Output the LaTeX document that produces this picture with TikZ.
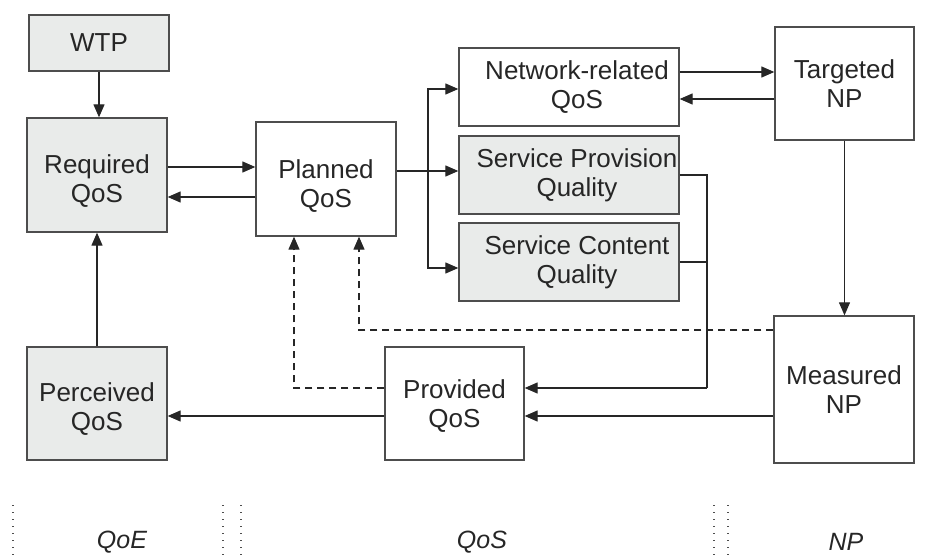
\documentclass[tikz,border=0pt]{standalone}
\usepackage{fontspec}
\setmainfont{Liberation Sans}
\usetikzlibrary{arrows.meta}
\definecolor{boxgray}{HTML}{E9EBEA}
\definecolor{edge}{HTML}{4D4D4D}
\definecolor{ink}{HTML}{262626}

\begin{document}
\begin{tikzpicture}[x=1pt,y=-1pt,
  box/.style={draw=edge, line width=1.3pt, inner sep=0pt},
  shaded/.style={box, fill=boxgray},
  plain/.style={box, fill=white},
  txt/.style={font=\fontsize{26}{29}\selectfont, text=ink, align=center, inner sep=0pt},
  wire/.style={draw=ink, line width=1.2pt},
  link/.style={wire, -{Triangle[length=13pt,width=11pt]}},
  dlink/.style={link, dash pattern=on 7pt off 5pt},
  sep/.style={draw=edge, line width=1.3pt, dash pattern=on 1.3pt off 5.7pt},
  zone/.style={font=\fontsize{25}{29}\selectfont\itshape, text=ink}
]
\useasboundingbox (0,0) rectangle (935,559);

% QoE column
\node[shaded, minimum width=140pt, minimum height=56pt,
      label={[txt]center:WTP}] (wtp) at (99,43) {};
\node[shaded, minimum width=140pt, minimum height=114pt,
      label={[txt,yshift=-6pt]center:{Required\\QoS}}] (req) at (97,175) {};
\node[shaded, minimum width=140pt, minimum height=113pt,
      label={[txt,yshift=-6pt]center:{Perceived\\QoS}}] (perc) at (97,403.5) {};

% QoS column
\node[plain, minimum width=140pt, minimum height=114pt,
      label={[txt,yshift=-7pt]center:{Planned\\QoS}}] (plan) at (326,179) {};
\node[plain, minimum width=139pt, minimum height=113pt,
      label={[txt,yshift=-3pt]center:{Provided\\QoS}}] (prov) at (454.5,403.5) {};
\node[plain, minimum width=220pt, minimum height=78pt,
      label={[txt,xshift=8pt]center:{Network-related\\QoS}}] (net) at (569,87) {};
\node[shaded, minimum width=220pt, minimum height=78pt,
      label={[txt,xshift=8pt]center:{Service Provision\\Quality}}] (spq) at (569,175) {};
\node[shaded, minimum width=220pt, minimum height=78pt,
      label={[txt,xshift=8pt]center:{Service Content\\Quality}}] (scq) at (569,262) {};

% NP column
\node[plain, minimum width=139pt, minimum height=113pt,
      label={[txt]center:{Targeted\\NP}}] (targ) at (844.5,83.5) {};
\node[plain, minimum width=140pt, minimum height=147pt,
      label={[txt]center:{Measured\\NP}}] (meas) at (844,389.5) {};

% requirement loop
\draw[link] (wtp.south) -- (wtp.south |- req.north);
\draw[link] (req.east |- 0,167) -- (plan.west |- 0,167);
\draw[link] (plan.west |- 0,197) -- (req.east |- 0,197);
\draw[link] (perc.north) -- (req.south);

% planning fan-out
\coordinate (fork) at (428,171);
\draw[wire] (plan.east |- fork) -- (fork);
\draw[link] (fork) |- (net.west |- 0,89);
\draw[link] (fork) -- (spq.west |- fork);
\draw[link] (fork) |- (scq.west |- 0,268);

% network performance
\draw[link] (net.east |- 0,72) -- (targ.west |- 0,72);
\draw[link] (targ.west |- 0,99) -- (net.east |- 0,99);
\draw[link] (targ.south) -- (targ.south |- meas.north);

% delivery to the user
\coordinate (join) at (707,388);
\draw[wire] (spq.east |- 0,175) -| (join);
\draw[wire] (scq.east |- 0,262) -- (join |- 0,262);
\draw[link] (join) -- (prov.east |- join);
\draw[link] (meas.west |- 0,416) -- (prov.east |- 0,416);
\draw[link] (prov.west |- 0,416) -- (perc.east |- 0,416);

% feedback to planning
\draw[dlink] (prov.west |- 0,388) -| (plan.south -| 294,0);
\draw[dlink] (meas.west |- 0,330) -| (plan.south -| 359,0);

% domain separators
\foreach \x in {13,223,241,714,728}
  \draw[sep] (\x,505) -- (\x,557);
\node[zone] (qoe) at (122,542) {QoE};
\node[zone] (qos) at (482,542) {QoS};
\node[zone] (np)  at (846,542) {NP};
\end{tikzpicture}
\end{document}
